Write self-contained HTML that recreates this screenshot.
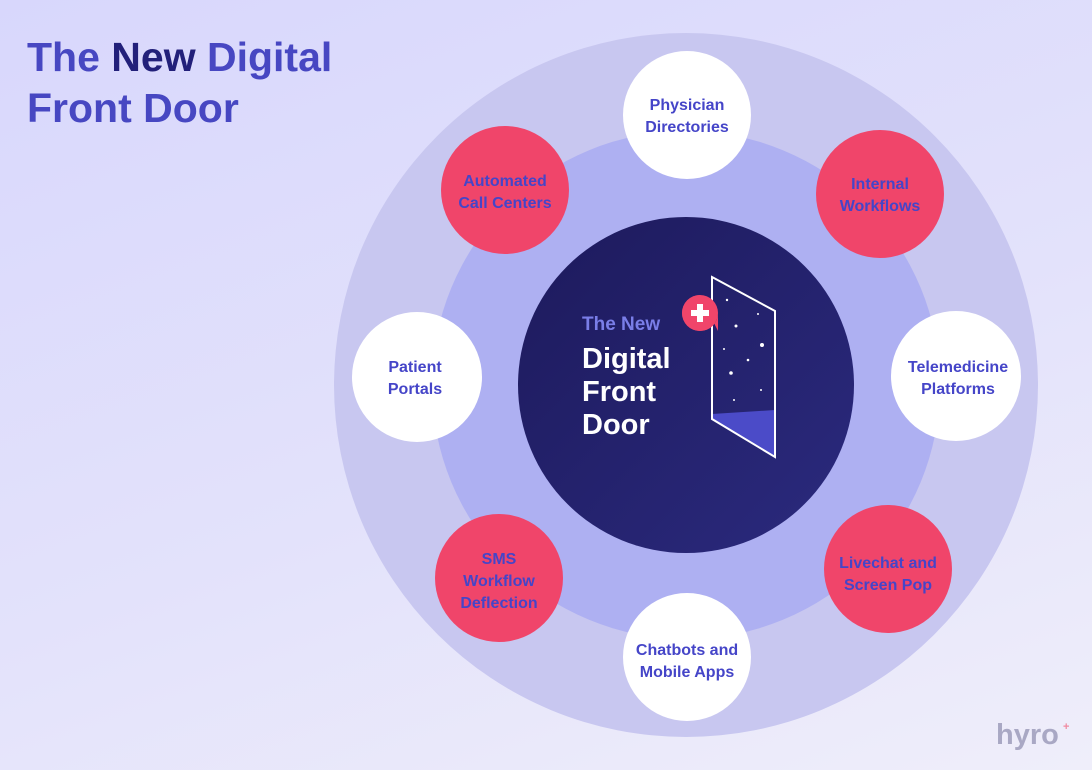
<!DOCTYPE html>
<html><head><style>
html,body{margin:0;padding:0}
body{width:1092px;height:770px;overflow:hidden;background:linear-gradient(160deg,#d8d7fc 0%,#e3e2fb 55%,#efeefa 100%);font-family:"Liberation Sans",sans-serif}
svg{position:absolute;left:0;top:0}
</style></head><body>
<svg width="1092" height="770" viewBox="0 0 1092 770" font-family="Liberation Sans, sans-serif" font-weight="bold">
<defs>
<linearGradient id="dk" x1="0" y1="0" x2="1" y2="1"><stop offset="0" stop-color="#1d1a5c"/><stop offset="1" stop-color="#2b2a7e"/></linearGradient>
</defs>
<text x="27" y="71" font-size="41" fill="#4747c2">The <tspan fill="#22207a">New</tspan> Digital</text>
<text x="27" y="122" font-size="41" fill="#4747c2">Front Door</text>
<circle cx="686" cy="385" r="352" fill="#c8c7f0"/>
<circle cx="686" cy="385" r="254" fill="#aeb0f2"/>
<circle cx="686" cy="385" r="168" fill="url(#dk)"/>
<text x="582" y="330" font-size="19" fill="#7a7ee8">The New</text>
<text x="582" y="368" font-size="29" fill="#fff">Digital</text>
<text x="582" y="401" font-size="29" fill="#fff">Front</text>
<text x="582" y="434" font-size="29" fill="#fff">Door</text>
<polygon points="712,414 775,410 775,457 712,420" fill="#4b4bc8"/>
<polygon points="712,277 775,311 775,457 712,419" fill="none" stroke="#fff" stroke-width="2"/>
<g fill="#fff"><circle cx="727" cy="300" r="1.2"/><circle cx="758" cy="314" r="1"/><circle cx="736" cy="326" r="1.5"/><circle cx="762" cy="345" r="2"/><circle cx="724" cy="349" r="1"/><circle cx="748" cy="360" r="1.3"/><circle cx="731" cy="373" r="1.8"/><circle cx="761" cy="390" r="1"/><circle cx="734" cy="400" r="1"/></g>
<path d="M700,295 a18,18 0 1 0 18,18 l0,18 z" fill="#f0456a"/>
<circle cx="700" cy="313" r="18" fill="#f0456a"/>
<rect x="691" y="310" width="18" height="6" fill="#fff"/><rect x="697" y="304" width="6" height="18" fill="#fff"/>
<g font-size="16" fill="#4545c8" text-anchor="middle">
<circle cx="687" cy="115" r="64" fill="#fff"/><text x="687" y="110">Physician</text><text x="687" y="132">Directories</text>
<circle cx="505" cy="190" r="64" fill="#f0456a"/><text x="505" y="186">Automated</text><text x="505" y="208">Call Centers</text>
<circle cx="880" cy="194" r="64" fill="#f0456a"/><text x="880" y="189">Internal</text><text x="880" y="211">Workflows</text>
<circle cx="417" cy="377" r="65" fill="#fff"/><text x="415" y="372">Patient</text><text x="415" y="394">Portals</text>
<circle cx="956" cy="376" r="65" fill="#fff"/><text x="958" y="372">Telemedicine</text><text x="958" y="394">Platforms</text>
<circle cx="499" cy="578" r="64" fill="#f0456a"/><text x="499" y="564">SMS</text><text x="499" y="586">Workflow</text><text x="499" y="608">Deflection</text>
<circle cx="888" cy="569" r="64" fill="#f0456a"/><text x="888" y="568">Livechat and</text><text x="888" y="590">Screen Pop</text>
<circle cx="687" cy="657" r="64" fill="#fff"/><text x="687" y="655">Chatbots and</text><text x="687" y="677">Mobile Apps</text>
</g>
<text x="996" y="744" font-size="29" fill="#a9a8c4">hyro</text>
<text x="1063" y="730" font-size="11" fill="#f08aa0">+</text>
</svg>
</body></html>
